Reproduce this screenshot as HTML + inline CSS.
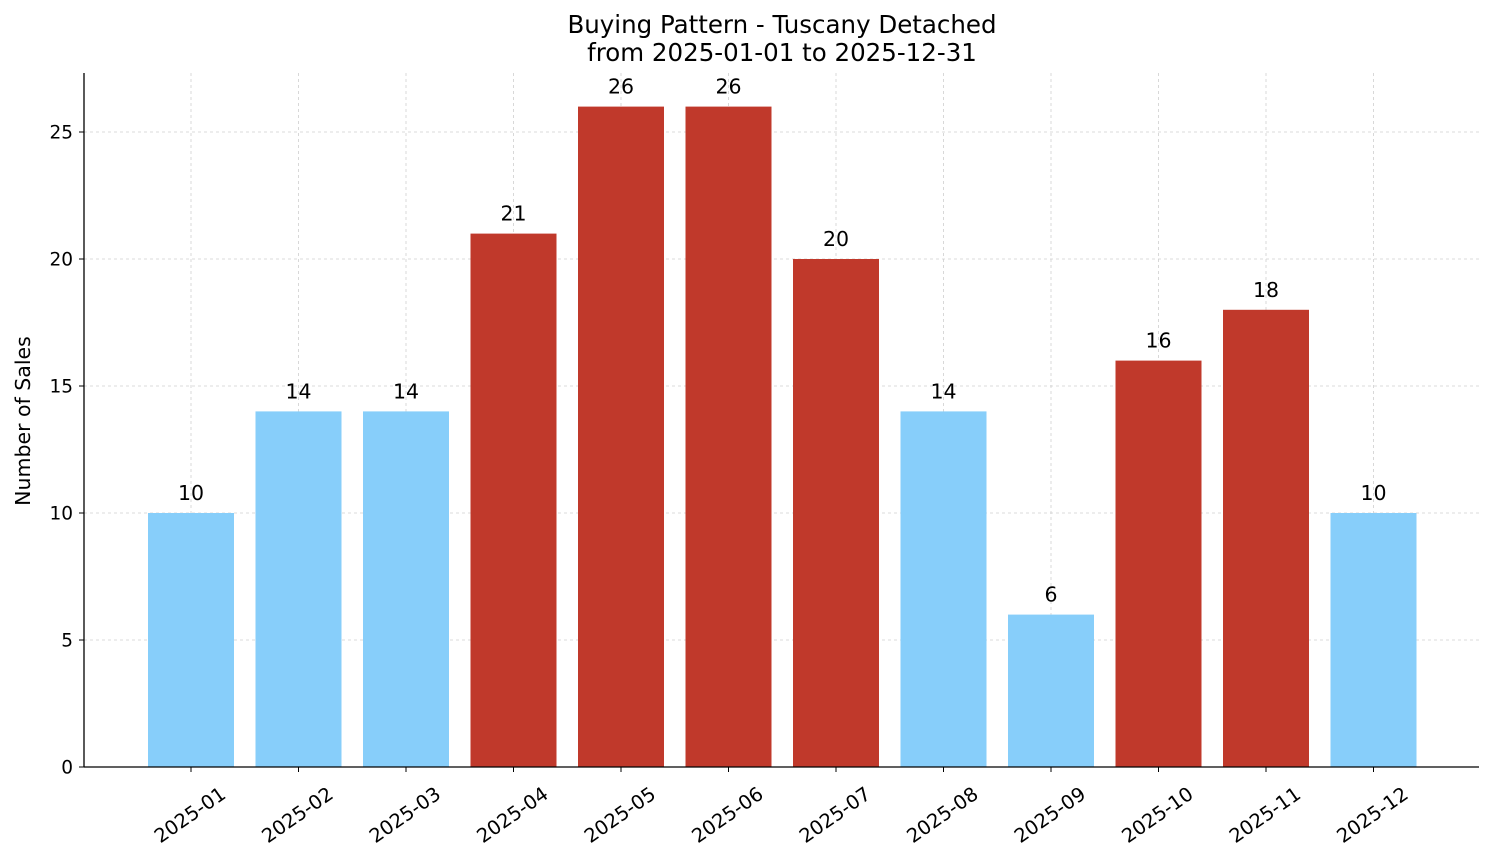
<!DOCTYPE html>
<html><head><meta charset="utf-8"><style>
body{margin:0;background:#fff;}
svg text{font-family:"DejaVu Sans","Liberation Sans",sans-serif;fill:#000;}
</style></head><body>
<svg id="chart" width="1494" height="863">
<text x="782" y="33" font-size="24.5" text-anchor="middle">Buying Pattern - Tuscany Detached</text>
<text x="782" y="61" font-size="24.5" text-anchor="middle">from 2025-01-01 to 2025-12-31</text>
<text transform="translate(30,421) rotate(-90)" font-size="20.5" text-anchor="middle">Number of Sales</text>
<g id="grid"></g><g id="bars"></g><g id="labels"></g><g id="axes"></g>
</svg>
<script>
const categories=["2025-01","2025-02","2025-03","2025-04","2025-05","2025-06","2025-07","2025-08","2025-09","2025-10","2025-11","2025-12"];
const sales=[10,14,14,21,26,26,20,14,6,16,18,10];
const yTicks=[0,5,10,15,20,25];
const NS="http://www.w3.org/2000/svg";
const L=84,R=1479,B=767,T=73;
function xs(i){return 191+107.5*i;}
function ys(v){return B-v*25.4;}
function mk(tag,attrs,parent,txt){const e=document.createElementNS(NS,tag);for(const k in attrs)e.setAttribute(k,attrs[k]);if(txt!==undefined)e.textContent=txt;document.getElementById(parent).appendChild(e);return e;}
yTicks.forEach(v=>{
 const g=mk('line',{x1:L,x2:R,y1:ys(v),y2:ys(v),stroke:'#cfcfcf','stroke-dasharray':'3,3','stroke-width':0.8},'grid');
 
 
 const t=mk('line',{x1:L-5,x2:L,y1:ys(v),y2:ys(v),stroke:'#000'},'axes');
 
 
 const l=mk('text',{x:L-11,y:ys(v)+6.5,'font-size':18.5,'text-anchor':'end'},'axes',v);
 
 
});
categories.forEach((c,i)=>{
 const g=mk('line',{x1:xs(i),x2:xs(i),y1:T,y2:B,stroke:'#cfcfcf','stroke-dasharray':'3,3','stroke-width':0.8},'grid');
 
 
 const v=sales[i];
 const b=mk('rect',{x:xs(i)-43,y:ys(v),width:86,height:B-ys(v),fill:v>15?'#c0392b':'#87cefa'},'bars');
 
 
 const vl=mk('text',{x:xs(i),y:ys(v)-13,'font-size':20.5,'text-anchor':'middle'},'labels',v);
 
 
 const t=mk('line',{x1:xs(i),x2:xs(i),y1:B,y2:B+5,stroke:'#000'},'axes');
 
 
 const xl=mk('text',{transform:`translate(${xs(i)-1},${815}) rotate(-35)`,y:6.5,'font-size':19.5,'text-anchor':'middle'},'axes',c);
 
 
});
const ya=mk('line',{x1:L,x2:L,y1:T,y2:B,stroke:'#000','stroke-width':1.3},'axes');


const xa=mk('line',{x1:L,x2:R,y1:B,y2:B,stroke:'#000','stroke-width':1.3},'axes');


</script>
</body></html>
